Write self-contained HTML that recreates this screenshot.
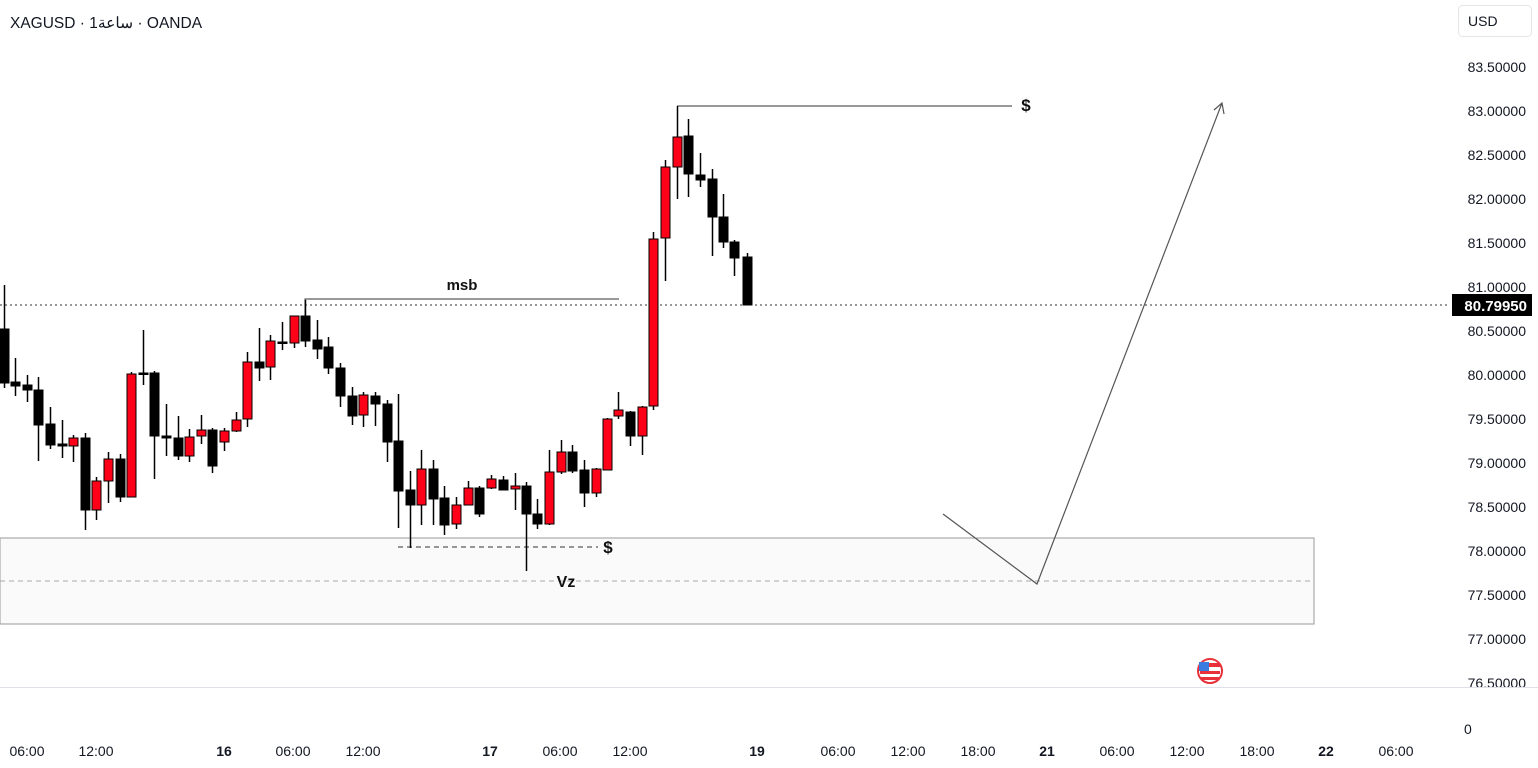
<!DOCTYPE html>
<html><head><meta charset="utf-8"><style>
html,body{margin:0;padding:0;background:#fff;width:1538px;height:768px;overflow:hidden}
svg{display:block;font-family:"Liberation Sans","Noto Sans CJK SC",sans-serif}
</style></head><body>
<svg id="s" width="1538" height="768" xmlns="http://www.w3.org/2000/svg">
<defs><clipPath id="cp"><rect x="1440" y="0" width="98" height="687"/></clipPath></defs>
<rect x="0" y="538" width="1314" height="86" fill="#fafafa" stroke="#9a9a9a" stroke-width="1"/>
<line x1="0" y1="581" x2="1314" y2="581" stroke="#aaa" stroke-dasharray="5,4"/>
<line x1="0" y1="305" x2="1450" y2="305" stroke="#333" stroke-dasharray="2,3"/>
<line x1="0" y1="687.5" x2="1538" y2="687.5" stroke="#e0e0ea"/>
<polyline points="305,316 305,299 619,299" fill="none" stroke="#333"/>
<text x="462" y="290" font-size="15" font-weight="bold" text-anchor="middle" fill="#111">msb</text>
<line x1="677" y1="106" x2="1012" y2="106" stroke="#333"/>
<text x="1026" y="111" font-size="17" font-weight="bold" text-anchor="middle" fill="#111">$</text>
<line x1="398" y1="547" x2="598" y2="547" stroke="#333" stroke-dasharray="5,4"/>
<text x="608" y="553" font-size="17" font-weight="bold" text-anchor="middle" fill="#111">$</text>
<text x="566" y="587" font-size="16" font-weight="bold" text-anchor="middle" fill="#111">Vz</text>
<polyline points="943,514 1037,584 1222,103" fill="none" stroke="#555" stroke-width="1.2"/>
<polyline points="1214,110 1222,103 1224,114" fill="none" stroke="#555" stroke-width="1.2"/>
<g id="c"></g>
<text x="10" y="28" font-size="15.5" fill="#131722">XAGUSD · 1ساعة · OANDA</text>
<rect x="1458.5" y="5.5" width="73" height="31" rx="4" fill="#fff" stroke="#e6e6e6"/>
<text x="1468" y="26" font-size="14" fill="#131722">USD</text>
<g font-size="14" fill="#131722" text-anchor="end" id="p" clip-path="url(#cp)"></g>
<rect x="1452" y="294" width="80" height="22" fill="#000"/>
<text x="1527" y="311" font-size="15" fill="#fff" text-anchor="end" font-weight="bold">80.79950</text>
<text x="1464" y="734" font-size="14" fill="#131722">0</text>
<g font-size="14" fill="#131722" text-anchor="middle" id="t"></g>
<circle cx="1210" cy="671" r="12" fill="#fff" stroke="#e8303a" stroke-width="2"/>
<rect x="1200" y="663" width="20" height="4" fill="#e8303a"/><rect x="1200" y="671" width="20" height="3" fill="#e8303a"/><rect x="1201" y="677" width="18" height="3" fill="#e8303a"/>
<rect x="1199" y="662" width="10" height="9" fill="#3b7be0"/>
</svg>
<script>
var C=[[4,285,388,329,383,0],[15,358,396,382,386,0],[27,375,402,385,390,0],[38,377,461,390,425,0],[50,407,449,424,445,0],[62,420,458,444,446,0],[73,435,462,438,446,1],[85,433,530,438,510,0],[96,477,520,481,510,1],[108,452,503,459,481,1],[120,454,502,459,497,0],[131,372,497,374,497,1],[143,330,385,373,374,0],[154,371,479,373,436,0],[166,404,456,436,438,0],[178,416,460,438,456,0],[189,429,462,437,456,1],[201,415,444,430,436,1],[212,428,473,430,466,0],[224,428,451,431,442,1],[236,412,432,420,431,1],[247,352,427,362,419,1],[259,328,381,362,368,0],[270,335,380,341,367,1],[282,322,350,342,343,0],[294,316,348,316,343,1],[305,300,347,316,341,0],[317,320,359,340,349,0],[328,337,374,347,368,0],[340,363,407,368,396,0],[352,387,425,396,416,0],[363,392,427,395,415,1],[375,392,426,396,404,0],[387,400,462,404,442,0],[398,394,528,441,491,0],[410,471,548,490,505,0],[421,450,525,469,505,1],[433,460,525,469,499,0],[444,486,535,498,525,0],[456,497,529,505,524,1],[468,481,505,488,505,1],[479,486,517,488,514,0],[491,475,489,479,488,1],[503,476,490,480,490,0],[515,473,510,486,489,1],[526,482,571,486,514,0],[537,499,529,514,524,0],[549,450,525,472,524,1],[561,440,474,452,472,1],[572,445,473,452,471,0],[584,460,507,470,493,0],[596,468,497,469,493,1],[607,418,470,419,470,1],[618,392,419,410,416,1],[630,411,446,412,436,0],[642,406,455,407,436,1],[653,232,410,239,406,1],[665,160,281,167,238,1],[677,106,199,137,167,1],[688,119,197,136,174,0],[700,153,187,175,180,0],[712,169,256,179,217,0],[723,194,248,217,242,0],[734,240,276,242,258,0],[747,253,305,257,305,0]];
var ns="http://www.w3.org/2000/svg",g=document.getElementById('c');
function el(n,a,p){var e=document.createElementNS(ns,n);for(var k in a)e.setAttribute(k,a[k]);(p||g).appendChild(e);return e;}
C.forEach(function(c){el('line',{x1:c[0]+.5,x2:c[0]+.5,y1:c[1],y2:c[2],stroke:'#000','stroke-width':1.5});var h=Math.max(c[4]-c[3],1.5);el('rect',{x:c[0]-4,y:c[3],width:9,height:h,fill:c[5]?'#ff0019':'#000',stroke:'#000','stroke-width':1});});
var p=document.getElementById('p');
for(var i=0;i<15;i++){var v=83.5-i*0.5;var t=el('text',{x:1526,y:72+i*44},p);t.textContent=v.toFixed(5);}
var T=[[27,'06:00'],[96,'12:00'],[224,'16',1],[293,'06:00'],[363,'12:00'],[490,'17',1],[560,'06:00'],[630,'12:00'],[757,'19',1],[838,'06:00'],[908,'12:00'],[978,'18:00'],[1047,'21',1],[1117,'06:00'],[1187,'12:00'],[1257,'18:00'],[1326,'22',1],[1396,'06:00']];
var tg=document.getElementById('t');
T.forEach(function(a){var t=el('text',{x:a[0],y:756},tg);if(a[2])t.setAttribute('font-weight','bold');t.textContent=a[1];});
</script>
</body></html>
